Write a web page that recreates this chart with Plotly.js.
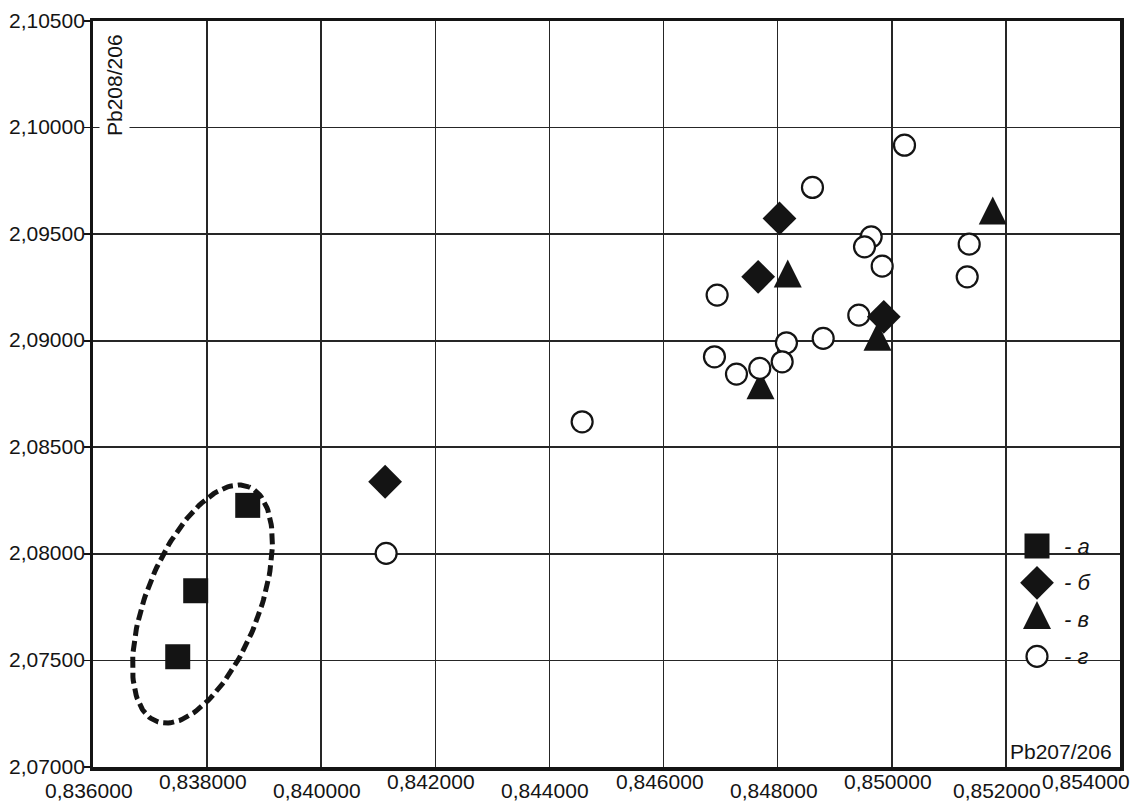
<!DOCTYPE html>
<html><head><meta charset="utf-8">
<script src="https://cdn.plot.ly/plotly-3.0.1.min.js"></script>
<style>html,body{margin:0;padding:0;background:#fff;}#chart{width:1139px;height:801px;}</style>
</head><body><div id="chart"></div>
<script>
// ---- data ----
const aX = [0.838712, 0.837800, 0.837485];
const aY = [2.082275, 2.078269, 2.075173];
const bX = [0.841120, 0.848032, 0.847658, 0.849860];
const bY = [2.083382, 2.095736, 2.092997, 2.091121];
const vX = [0.851770, 0.848177, 0.849750, 0.847699];
const vY = [2.095896, 2.092936, 2.089962, 2.087697];
const gX = [0.841138, 0.844573, 0.850223, 0.848610, 0.849639, 0.849522, 0.849832, 0.851357, 0.851322,
            0.846939, 0.849422, 0.848798, 0.848154, 0.848079, 0.846892, 0.847278, 0.847686];
const gY = [2.080023, 2.086196, 2.099174, 2.097190, 2.094873, 2.094404, 2.093499, 2.094531, 2.092997,
            2.092139, 2.091200, 2.090108, 2.089902, 2.089010, 2.089245, 2.088433, 2.088701];
const legendLabels = ['- а', '- б', '- в', '- г'];
const xTickVals = [0.836, 0.838, 0.840, 0.842, 0.844, 0.846, 0.848, 0.850, 0.852, 0.854];
const xTickText = ['0,836000', '0,838000', '0,840000', '0,842000', '0,844000', '0,846000', '0,848000', '0,850000', '0,852000', '0,854000'];
const yTickVals = [2.070, 2.075, 2.080, 2.085, 2.090, 2.095, 2.100, 2.105];
const yTickText = ['2,07000', '2,07500', '2,08000', '2,08500', '2,09000', '2,09500', '2,10000', '2,10500'];
const xTitle = 'Pb207/206';
const yTitle = 'Pb208/206';

// ---- layout geometry ----
const W = 1139, H = 801;
const M = {l: 93, r: 19, t: 21, b: 34};
const PW = W - M.l - M.r, PH = H - M.t - M.b;
const xRange = [0.836, 0.854], yRange = [2.070, 2.105];
const pxPerX = PW / (xRange[1] - xRange[0]);
const pxPerY = PH / (yRange[1] - yRange[0]);
const FONT = 'Liberation Sans, Arial, sans-serif';
const FS = 21;
const INK = '#141414';

// dashed ellipse outline around group "а" (decoration)
const ell = {cx: 0.837918, cy: 2.077645, a: 126, b: 56.5, ang: 68.5 * Math.PI / 180};
const ellX = [], ellY = [];
for (let i = 0; i <= 180; i++) {
  const t = i / 180 * 2 * Math.PI;
  const dx = ell.a * Math.cos(t) * Math.cos(ell.ang) - ell.b * Math.sin(t) * Math.sin(ell.ang);
  const dy = ell.a * Math.cos(t) * Math.sin(ell.ang) + ell.b * Math.sin(t) * Math.cos(ell.ang);
  ellX.push(ell.cx + dx / pxPerX);
  ellY.push(ell.cy + dy / pxPerY);
}

// triangle marker ("arrow-up": apex at anchor, width = height = size); the
// overlay axis is shifted so the triangle's centroid sits on the data value
const TRI = 28;
const triShift = (TRI * 2 / 3) / pxPerY;
const mk = {
  a: {symbol: 'square', size: 25, color: INK, line: {width: 0}},
  b: {symbol: 'diamond', size: 26, color: INK, line: {width: 0}},
  v: {symbol: 'arrow-up', size: TRI, color: INK, line: {width: 0}},
  g: {symbol: 'circle', size: 21, color: '#fff', line: {width: 2.2, color: INK}}
};

// legend positions (paper fractions)
const legPxX = 1037, legPxTop = 546, legStep = 36.8;
const legX = [], legY = [];
for (let i = 0; i < 4; i++) {
  legX.push((legPxX - M.l) / PW);
  legY.push((H - M.b - (legPxTop + i * legStep)) / PH);
}
const triLegShift = (TRI * 2 / 3) / PH;

const traces = [
  // legend symbols (overlay y2, paper-like 0..1)
  {x: [legX[0]], y: [legY[0]], xaxis: 'x2', yaxis: 'y2', mode: 'markers', marker: mk.a, hoverinfo: 'skip'},
  {x: [legX[1]], y: [legY[1]], xaxis: 'x2', yaxis: 'y2', mode: 'markers', marker: mk.b, hoverinfo: 'skip'},
  {x: [legX[2]], y: [legY[2]], xaxis: 'x2', yaxis: 'y5', mode: 'markers', marker: mk.v, hoverinfo: 'skip'},
  {x: [legX[3]], y: [legY[3]], xaxis: 'x2', yaxis: 'y2', mode: 'markers', marker: mk.g, hoverinfo: 'skip'},
  // data
  {x: vX, y: vY, xaxis: 'x', yaxis: 'y3', mode: 'markers', marker: mk.v},
  {x: ellX, y: ellY, xaxis: 'x', yaxis: 'y4', mode: 'lines', line: {color: INK, width: 5, dash: '11px,5px'}, hoverinfo: 'skip'},
  {x: gX, y: gY, xaxis: 'x', yaxis: 'y4', mode: 'markers', marker: mk.g},
  {x: bX, y: bY, xaxis: 'x', yaxis: 'y4', mode: 'markers', marker: mk.b},
  {x: aX, y: aY, xaxis: 'x', yaxis: 'y4', mode: 'markers', marker: mk.a}
];
traces.forEach(t => { t.showlegend = false; });

const annotations = [];
xTickVals.forEach((v, i) => {
  const upper = (i % 2 === 1);
  let xs = -4;
  if (i === xTickVals.length - 1) xs = -34;
  else if (i === xTickVals.length - 2) xs = -9;
  annotations.push({x: v, xref: 'x', y: 0, yref: 'paper', text: xTickText[i], showarrow: false,
    xanchor: 'center', yanchor: 'middle', xshift: xs, yshift: upper ? -14 : -23,
    font: {family: FONT, size: FS, color: INK}});
});
yTickVals.forEach((v, i) => {
  annotations.push({x: 0, xref: 'paper', y: v, yref: 'y', text: yTickText[i], showarrow: false,
    xanchor: 'right', yanchor: 'middle', xshift: -6, yshift: 1,
    font: {family: FONT, size: FS, color: INK}});
});
legendLabels.forEach((t, i) => {
  annotations.push({x: (1062 - M.l) / PW, xref: 'paper', y: legY[i], yref: 'paper', text: '<i>' + t + '</i>',
    showarrow: false, xanchor: 'left', yanchor: 'middle', font: {family: FONT, size: 22, color: INK}});
});
annotations.push({x: (115 - M.l) / PW, xref: 'paper', y: (H - M.b - 85) / PH, yref: 'paper', text: yTitle,
  textangle: -90, showarrow: false, xanchor: 'center', yanchor: 'middle', bgcolor: '#fff', borderpad: 3,
  font: {family: FONT, size: FS, color: INK}});
annotations.push({x: (1061 - M.l) / PW, xref: 'paper', y: (H - M.b - 751.5) / PH, yref: 'paper', text: xTitle,
  showarrow: false, xanchor: 'center', yanchor: 'middle',
  font: {family: FONT, size: FS, color: INK}});

const hidden = {range: [0, 1], visible: false, fixedrange: true};
const layout = {
  width: W, height: H, margin: M,
  paper_bgcolor: '#fff', plot_bgcolor: '#fff',
  showlegend: false,
  xaxis: {range: xRange, tickvals: xTickVals, showticklabels: false, ticks: '',
    showgrid: true, gridcolor: '#262626', gridwidth: 1.6, zeroline: false,
    showline: true, mirror: true, linecolor: INK, linewidth: 3.5, fixedrange: true},
  yaxis: {range: yRange, tickvals: yTickVals, showticklabels: false, ticks: 'outside', ticklen: 6,
    tickwidth: 1.6, tickcolor: INK,
    showgrid: true, gridcolor: '#262626', gridwidth: 1.6, zeroline: false,
    showline: true, mirror: true, linecolor: INK, linewidth: 3.5, fixedrange: true},
  xaxis2: Object.assign({overlaying: 'x'}, hidden),
  yaxis2: Object.assign({overlaying: 'y'}, hidden),
  yaxis3: {overlaying: 'y', range: [yRange[0] - triShift, yRange[1] - triShift], visible: false, fixedrange: true},
  yaxis4: {overlaying: 'y', range: yRange, visible: false, fixedrange: true},
  yaxis5: {overlaying: 'y', range: [0 - triLegShift, 1 - triLegShift], visible: false, fixedrange: true},
  shapes: [{type: 'rect', xref: 'paper', yref: 'paper', layer: 'between',
    x0: (1017 - M.l) / PW, x1: (1102 - M.l) / PW, y0: (H - M.b - 676) / PH, y1: (H - M.b - 528) / PH,
    fillcolor: '#fff', line: {width: 0}}],
  annotations: annotations
};

Plotly.newPlot('chart', traces, layout, {displayModeBar: false, staticPlot: true});
</script>
</body></html>
